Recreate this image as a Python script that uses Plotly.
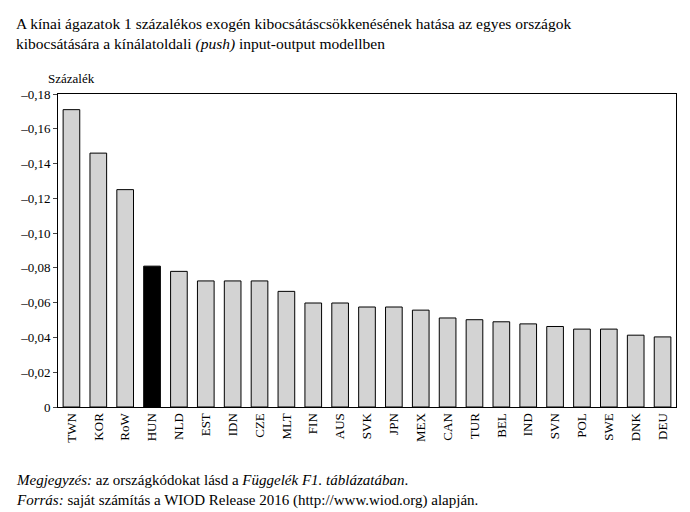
import plotly.graph_objects as go

countries = ["TWN","KOR","RoW","HUN","NLD","EST","IDN","CZE","MLT","FIN","AUS","SVK","JPN","MEX","CAN","TUR","BEL","IND","SVN","POL","SWE","DNK","DEU"]
values = [-0.171,-0.146,-0.125,-0.081,-0.078,-0.0725,-0.0725,-0.0725,-0.0665,-0.0598,-0.0598,-0.0575,-0.0575,-0.0557,-0.0512,-0.0502,-0.049,-0.0478,-0.0463,-0.0448,-0.0448,-0.0413,-0.0403]
tickvals = [0,-0.02,-0.04,-0.06,-0.08,-0.10,-0.12,-0.14,-0.16,-0.18]
ticktext = ["0","–0,02","–0,04","–0,06","–0,08","–0,10","–0,12","–0,14","–0,16","–0,18"]
colors = ["black" if c == "HUN" else "#d3d3d3" for c in countries]

font = "Liberation Serif"
fig = go.Figure(go.Bar(x=countries, y=values, marker=dict(color=colors, line=dict(color="black", width=1)), width=0.62))
fig.update_layout(
    width=690, height=512, margin=dict(l=50, r=22, t=86, b=113),
    plot_bgcolor="white", paper_bgcolor="white", showlegend=False,
    font=dict(family=font, size=13, color="black"),
)
fig.update_yaxes(range=[0, -0.18], tickvals=tickvals, ticktext=ticktext, showgrid=False, showline=True, linecolor="black", mirror=True, ticks="outside", ticklen=4, zeroline=False, tickfont=dict(size=13))
fig.update_xaxes(showline=True, linecolor="black", mirror=True, ticks="", tickangle=-90, tickfont=dict(size=13))
fig.add_annotation(text="A kínai ágazatok 1 százalékos exogén kibocsátáscsökkenésének hatása az egyes országok<br>kibocsátására a kínálatoldali <i>(push)</i> input-output modellben",
                   xref="paper", yref="paper", x=-0.072, y=1.26, xanchor="left", yanchor="top", align="left", showarrow=False, font=dict(size=15.5))
fig.add_annotation(text="Százalék", xref="paper", yref="paper", x=-0.02, y=1.02, xanchor="left", yanchor="bottom", showarrow=False, font=dict(size=13))
fig.add_annotation(text="<i>Megjegyzés:</i> az országkódokat lásd a <i>Függelék F1. táblázatában</i>.<br><i>Forrás:</i> saját számítás a WIOD Release 2016 (http://www.wiod.org) alapján.",
                   xref="paper", yref="paper", x=-0.072, y=-0.2, xanchor="left", yanchor="top", align="left", showarrow=False, font=dict(size=15))
fig.write_html("out.html")
